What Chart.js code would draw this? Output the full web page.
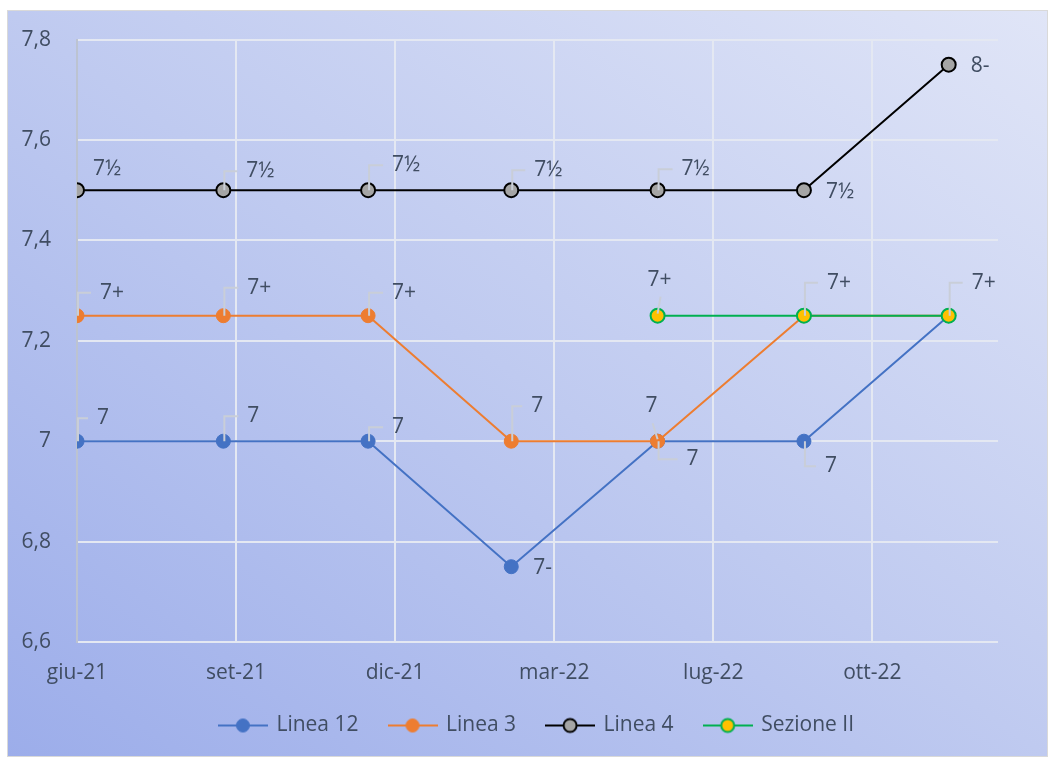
<!DOCTYPE html>
<html lang="it">
<head>
<meta charset="utf-8">
<title>Voti per linea</title>
<script src="https://cdn.jsdelivr.net/npm/chart.js@4.4.1/dist/chart.umd.min.js"></script>
<style>
  html, body { margin: 0; padding: 0; background: #ffffff; }
  body { width: 1048px; height: 757px; position: relative; overflow: hidden; }
  #frame {
    position: absolute; left: 7px; top: 10px; width: 1041px; height: 747px;
    box-sizing: border-box; border: 1px solid #d9d9d9;
    background: linear-gradient(to top right, #9cadea 0%, #bfcaf0 50%, #e0e5f7 100%);
  }
  #plot { position: absolute; left: 0; top: -10px; width: 1039px; height: 755px; }
  #plot canvas { display: block; }
</style>
</head>
<body>
<div id="frame"><div id="plot"><canvas id="chart"></canvas></div></div>
<script>
// Survey dates (first of each quarter)
const dates = ['2021-06-01', '2021-09-01', '2021-12-01', '2022-03-01', '2022-06-01', '2022-09-01', '2022-12-01'];

// Grades per series (null = no grade for that date)
const linea12 = [7, 7, 7, 6.75, 7, 7, 7.25];
const linea3 = [7.25, 7.25, 7.25, 7, 7, 7.25, 7.25];
const linea4 = [7.5, 7.5, 7.5, 7.5, 7.5, 7.5, 7.75];
const sezione2 = [null, null, null, null, 7.25, 7.25, 7.25];

const seriesNames = ['Linea 12', 'Linea 3', 'Linea 4', 'Sezione II'];

// Axis range and tick settings
const axisStart = '2021-06-01';
const axisEnd = '2023-01-01';
const xStepDays = 100;
const yMin = 6.6, yMax = 7.8, yStep = 0.2;
const monthNames = ['gen', 'feb', 'mar', 'apr', 'mag', 'giu', 'lug', 'ago', 'set', 'ott', 'nov', 'dic'];

// Grade notation for each numeric value
const gradeText = { '6.75': '7-', '7': '7', '7.25': '7+', '7.5': '7½', '7.75': '8-' };

const DAY = 86400000;
const t0 = Date.parse(axisStart + 'T00:00:00Z');
const dayOf = s => Math.round((Date.parse(s + 'T00:00:00Z') - t0) / DAY);
const xDays = dates.map(dayOf);
const toPoints = vals => vals.map((v, i) => ({ x: xDays[i], y: v }));

const fmtDate = d => {
  const dt = new Date(t0 + d * DAY);
  return monthNames[dt.getUTCMonth()] + '-' + String(dt.getUTCFullYear()).slice(2);
};
const fmtNum = v => String(Math.round(v * 10) / 10).replace('.', ',');

const FONT = '"Open Sans", "Noto Sans", sans-serif';
const FSIZE = 21;
const TEXT = '#404d62';

// Where each data label sits relative to its point
const E = (dx, dy) => ({ dx, dy, align: 'left', leader: 'elbow' });
const N = (dx, dy) => ({ dx, dy, align: 'left', leader: 'none' });
const S = (dx, dy) => ({ dx, dy, align: 'center', leader: 'stem' });
const placements = [
  [E(20, -23), E(24, -25), E(24, -14), N(22, 1), E(29, 18), E(21, 25), null],
  [E(23, -23), E(24, -28), E(24, -23), E(20, -35), S(-6, -35), null, null],
  [N(16, -21), E(23, -19), E(24, -25), E(23, -20), E(24, -21), N(22, 2), N(22, 1)],
  [null, null, null, null, S(2, -36), E(23, -33), E(23, -33)]
];

const styles = [
  { line: '#4472c4', fill: '#4472c4', border: '#4472c4', bw: 1 },
  { line: '#ed7d31', fill: '#ed7d31', border: '#ed7d31', bw: 1 },
  { line: '#000000', fill: '#a5a5a5', border: '#000000', bw: 2 },
  { line: '#00b050', fill: '#ffc000', border: '#00b050', bw: 2 }
];
const values = [linea12, linea3, linea4, sezione2];

const datasets = values.map((vals, i) => ({
  label: seriesNames[i],
  data: toPoints(vals),
  borderColor: styles[i].line,
  backgroundColor: styles[i].fill,
  borderWidth: 2,
  pointRadius: 7,
  pointBorderWidth: styles[i].bw,
  pointBackgroundColor: styles[i].fill,
  pointBorderColor: styles[i].border,
  spanGaps: false,
  order: values.length - i
}));

// Legend swatch: short line with a marker in the middle
function swatch(st) {
  const c = document.createElement('canvas');
  c.width = 50; c.height = 18;
  const g = c.getContext('2d');
  g.strokeStyle = st.line; g.lineWidth = 2;
  g.beginPath(); g.moveTo(0, 9); g.lineTo(50, 9); g.stroke();
  g.beginPath(); g.arc(25, 9, 6.5, 0, Math.PI * 2);
  g.fillStyle = st.fill; g.fill();
  g.lineWidth = st.bw; g.strokeStyle = st.border; g.stroke();
  return c;
}

// Shift the legend row so it sits centred under the whole frame
const legendShift = 34;
const legendNudge = {
  id: 'legendNudge',
  afterLayout(chart) {
    const lg = chart.legend;
    if (lg) { lg.left += legendShift; lg.right += legendShift; }
  }
};

const gradeLabels = {
  id: 'gradeLabels',
  afterDatasetsDraw(chart) {
    const ctx = chart.ctx;
    ctx.save();
    ctx.font = FSIZE + 'px ' + FONT;
    ctx.textBaseline = 'middle';
    chart.data.datasets.forEach((ds, di) => {
      const meta = chart.getDatasetMeta(di);
      meta.data.forEach((pt, i) => {
        const p = placements[di][i];
        const v = values[di][i];
        if (!p || v === null) return;
        const px = pt.x, py = pt.y;
        const tx = px + p.dx, ty = py + p.dy;
        ctx.strokeStyle = '#c9ced8';
        ctx.lineWidth = 2;
        if (p.leader === 'elbow') {
          ctx.beginPath();
          ctx.moveTo(px + 1, py);
          ctx.lineTo(px + 1, ty);
          ctx.lineTo(tx - 9, ty);
          ctx.stroke();
        } else if (p.leader === 'stem') {
          ctx.beginPath();
          ctx.moveTo(tx + 1, ty + 17);
          ctx.lineTo(px, py - 2);
          ctx.stroke();
        }
        ctx.fillStyle = TEXT;
        ctx.textAlign = p.align;
        ctx.fillText(gradeText[String(v)], tx, ty);
      });
    });
    ctx.restore();
  }
};

new Chart(document.getElementById('chart'), {
  type: 'line',
  data: { datasets },
  plugins: [gradeLabels, legendNudge],
  options: {
    responsive: true,
    maintainAspectRatio: false,
    animation: false,
    layout: { padding: { top: 27, right: 49, bottom: 10, left: 0 } },
    plugins: {
      tooltip: { enabled: false },
      legend: {
        position: 'bottom',
        align: 'center',
        labels: {
          usePointStyle: true,
          pointStyleWidth: 46,
          boxHeight: FSIZE,
          padding: 31,
          color: TEXT,
          font: { size: FSIZE, family: FONT },
          generateLabels: chart => chart.data.datasets.map((ds, i) => ({
            text: ds.label,
            datasetIndex: i,
            pointStyle: swatch(styles[i]),
            fillStyle: styles[i].fill,
            strokeStyle: styles[i].line,
            lineWidth: 0,
            fontColor: TEXT,
            hidden: false
          }))
        }
      }
    },
    scales: {
      x: {
        type: 'linear',
        min: 0,
        max: dayOf(axisEnd),
        afterFit: s => { s.height = 42; },
        grid: { color: '#e4e8f2', lineWidth: 2, drawTicks: false },
        border: { display: false },
        ticks: {
          stepSize: xStepDays,
          includeBounds: false,
          padding: 18,
          color: TEXT,
          font: { size: FSIZE, family: FONT },
          maxRotation: 0,
          callback: v => fmtDate(v)
        }
      },
      y: {
        min: yMin,
        max: yMax,
        afterFit: s => { s.width = 69; },
        grid: { color: '#e4e8f2', lineWidth: 2, drawTicks: false },
        border: { display: true, color: '#bcc3d1', width: 2 },
        ticks: {
          stepSize: yStep,
          padding: 26,
          color: TEXT,
          font: { size: FSIZE, family: FONT },
          callback: v => fmtNum(v)
        }
      }
    }
  }
});
</script>
</body>
</html>
